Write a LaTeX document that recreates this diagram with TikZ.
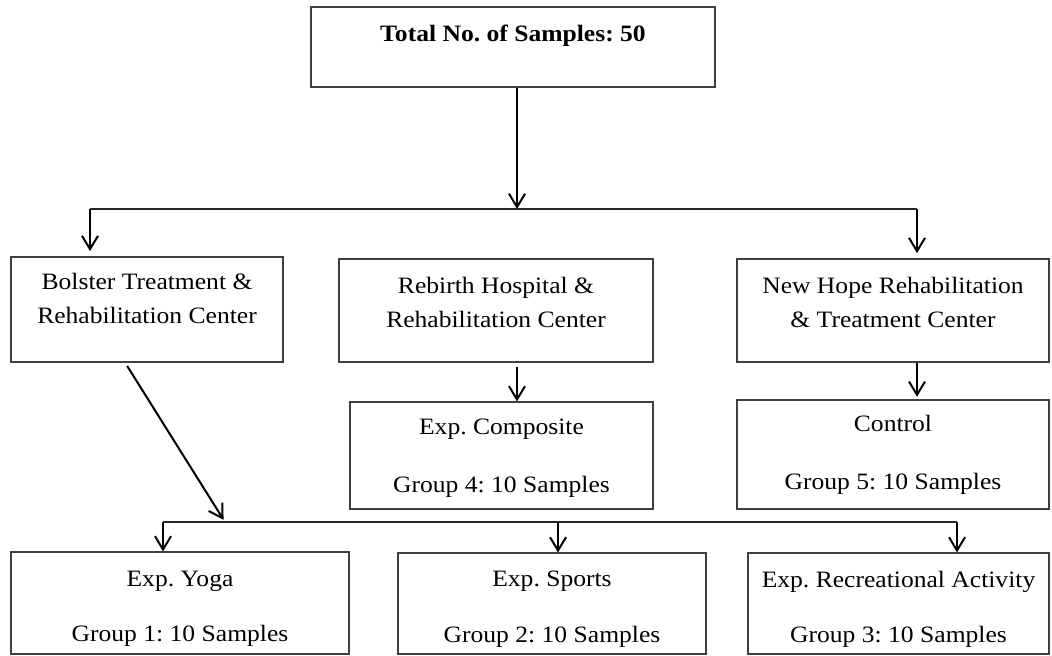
\documentclass[tikz,border=0pt]{standalone}
\usepackage{fontspec}
\setmainfont[FakeStretch=1.09]{Liberation Serif}
\usetikzlibrary{positioning,arrows.meta}
\frenchspacing
\tikzset{
  box/.style={draw=black!75,line width=0.8pt,inner sep=0pt},
  txt/.style={inner sep=0pt,align=center,anchor=north,font=\fontsize{17.6pt}{25.5pt}\selectfont},
  arr/.style={line width=1.5pt,-{Straight Barb[length=10pt,width=12pt]}},
  link/.style={line width=1pt,draw=black!85}
}
\begin{document}
\begin{tikzpicture}[x=0.75pt,y=-0.75pt]
\path[use as bounding box,fill=white](0,0)rectangle(1052,656);
\node[box,minimum width=303pt,minimum height=60pt](total)at(513,47){};
\node[txt,below=13.5pt of total.north](totaltxt){\textbf{Total No. of Samples: 50}};
\node[box,minimum width=204pt,minimum height=78.75pt](bolster)at(147,309.5){};
\node[txt,below=12pt of bolster.north](bolstertxt){Bolster Treatment \&\\Rehabilitation Center};
\node[box,minimum width=235.5pt,minimum height=77.25pt](rebirth)at(496,310.5){};
\node[txt,below=13.5pt of rebirth.north](rebirthtxt){Rebirth Hospital \&\\Rehabilitation Center};
\node[box,minimum width=234pt,minimum height=77.25pt](newhope)at(893,310.5){};
\node[txt,below=13.5pt of newhope.north](newhopetxt){New Hope Rehabilitation\\\& Treatment Center};
\node[box,minimum width=227.25pt,minimum height=80.25pt](composite)at(501.5,455.5){};
\node[txt,below=12.75pt of composite.north](compositetxt){Exp. Composite\\[18pt]Group 4: 10 Samples};
\node[box,minimum width=234pt,minimum height=81.75pt](control)at(893,454.5){};
\node[txt,below=11.25pt of control.north](controltxt){Control\\[18pt]Group 5: 10 Samples};
\node[box,minimum width=253.5pt,minimum height=76.5pt](yoga)at(180,603){};
\node[txt,below=14.25pt of yoga.north](yogatxt){Exp. Yoga\\[15.75pt]Group 1: 10 Samples};
\node[box,minimum width=231pt,minimum height=75.75pt](sports)at(552,603.5){};
\node[txt,below=13.5pt of sports.north](sportstxt){Exp. Sports\\[16.5pt]Group 2: 10 Samples};
\node[box,minimum width=225.75pt,minimum height=75.75pt](recreational)at(898.5,603.5){};
\node[txt,below=13.5pt of recreational.north](recreationaltxt){Exp. Recreational Activity\\[15.75pt]Group 3: 10 Samples};
\coordinate(hub)at(517,209);
\coordinate(lhub)at(90,209);
\coordinate(rhub)at(917,209);
\coordinate(meet)at(225,522);
\coordinate(lb)at(163,522);
\coordinate(mb)at(558,522);
\coordinate(rb)at(957,522);
\draw[arr](total.south-|hub)--(hub);
\draw[link](lhub)--(rhub);
\draw[arr,shorten >=4pt](lhub)--(lhub|-bolster.north);
\draw[arr,shorten >=4pt](rhub)--(rhub|-newhope.north);
\draw[arr,shorten <=3pt](rebirth.south-|hub)--(composite.north-|hub);
\draw[arr,shorten >=2pt](newhope.south-|rhub)--(control.north-|rhub);
\draw[arr,shorten <=3pt,shorten >=2pt]([xshift=-16.5pt]bolster.south)--(meet);
\draw[link](lb)--(rb);
\draw[arr](lb)--(lb|-yoga.north);
\draw[arr](mb)--(mb|-sports.north);
\draw[arr](rb)--(rb|-recreational.north);
\end{tikzpicture}
\end{document}
